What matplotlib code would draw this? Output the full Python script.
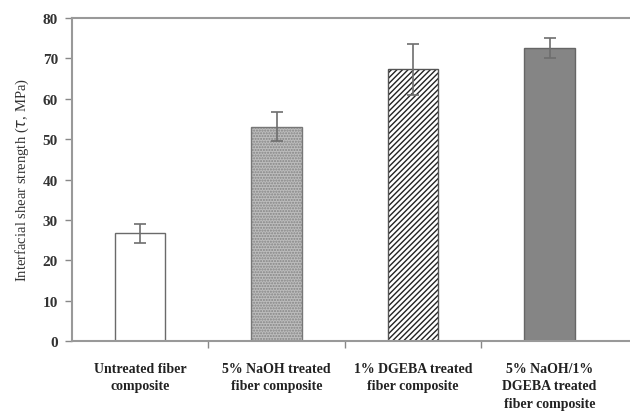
import matplotlib
matplotlib.use("Agg")
import matplotlib.pyplot as plt
import numpy as np

categories = [
    "Untreated fiber\ncomposite",
    "5% NaOH treated\nfiber composite",
    "1% DGEBA treated\nfiber composite",
    "5% NaOH/1%\nDGEBA treated\nfiber composite",
]
strength = [26.7, 53.1, 67.3, 72.5]
strength_err = [2.4, 3.6, 6.3, 2.5]
yticks = [0, 10, 20, 30, 40, 50, 60, 70, 80]

plt.rcParams["font.family"] = ["Liberation Serif", "DejaVu Serif"]
plt.rcParams["hatch.linewidth"] = 1.0

fig = plt.figure(figsize=(6.3, 4.14), dpi=100)
ax = fig.add_axes([0.114, 0.174, 0.886, 0.78])

x = np.arange(len(categories))
faces = ["white", "#bdbdbd", "white", "#858585"]
hatches = [None, "......", "//////", None]
hatch_colors = ["#555555", "#858585", "#222222", "#555555"]
edge_colors = ["#6a6a6a", "#777777", "#555555", "#666666"]

for xi, v, e, fc, h, hc, ec in zip(x, strength, strength_err, faces, hatches,
                                   hatch_colors, edge_colors):
    bar = ax.bar(xi, v, width=0.37, color=fc, edgecolor=ec,
                 linewidth=1.0, hatch=h, zorder=2)
    if h:
        bar[0]._hatch_color = matplotlib.colors.to_rgba(hc)
    ax.errorbar(xi, v, yerr=e, fmt="none", ecolor="#6e6e6e", elinewidth=1.2,
                capsize=4, capthick=1.2, zorder=3)

ax.set_ylim(0, 80)
ax.set_xlim(-0.5, 3.5 + 12 / 136)
ax.set_yticks(yticks)
ax.set_yticklabels([str(t) for t in yticks], fontsize=11, fontweight="bold",
                   color="#333333")

# category boundaries as ticks, labels centred under each bar
ax.set_xticks([0.5, 1.5, 2.5])
ax.set_xticklabels([])
ax.set_xticks(x, minor=True)
ax.set_xticklabels(categories, minor=True, fontsize=10, fontweight="bold",
                   color="#222222", linespacing=1.45, va="top")
ax.tick_params(axis="x", which="minor", length=0, pad=15)
ax.tick_params(axis="x", which="major", direction="out", length=5,
               color="#888888", width=1.0)
ax.tick_params(axis="y", direction="out", length=5, color="#888888",
               width=1.0, pad=5)

for side in ["left", "bottom", "top"]:
    ax.spines[side].set_color("#999999")
    ax.spines[side].set_linewidth(1.5)
ax.spines["right"].set_visible(False)

ax.set_ylabel(r"Interfacial shear strength ($\tau$, MPa)", fontsize=10.5,
              color="#333333", labelpad=8)

fig.savefig("out.png", dpi=100)
